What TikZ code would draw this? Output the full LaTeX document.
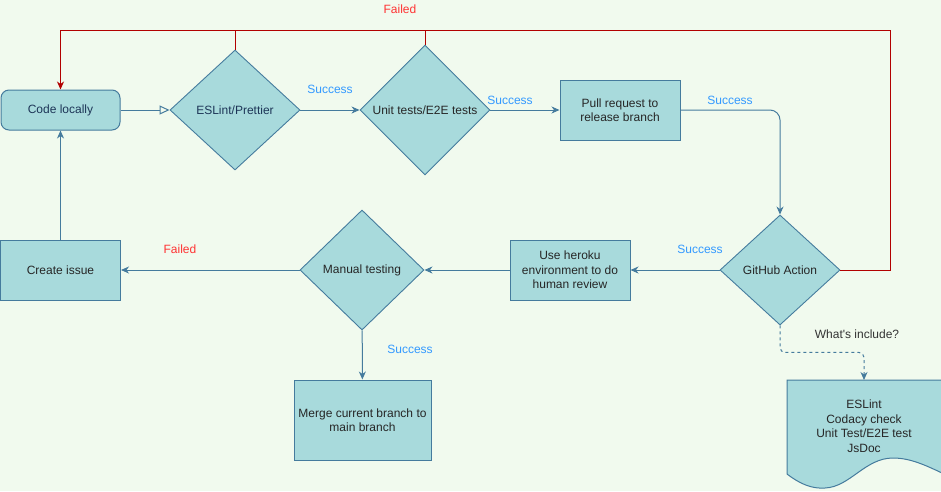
\documentclass[tikz,border=0pt]{standalone}
\usepackage{fontspec}
\setmainfont{Liberation Sans}
\usetikzlibrary{shapes.geometric,arrows.meta}
\definecolor{bgcol}{HTML}{F1FAEE}
\definecolor{boxfill}{HTML}{A8DADC}
\definecolor{boxline}{HTML}{457B9D}
\definecolor{boxtext}{HTML}{1D3557}
\definecolor{okblue}{HTML}{3399FF}
\definecolor{failred}{HTML}{FF3333}
\definecolor{loopred}{HTML}{B20000}
\begin{document}
\begin{tikzpicture}[x=1pt,y=-1pt,
    font=\fontsize{12}{14.5}\selectfont,
    box/.style={draw=boxline,fill=boxfill,line width=1pt,text=black!85,align=center,inner sep=2pt},
    decision/.style={diamond,draw=boxline,fill=boxfill,line width=0.9pt,inner sep=0pt,align=center,text=black!85},
    flow/.style={draw=boxline,line width=1pt,-{Stealth[length=8pt,width=7pt,inset=2.5pt]}},
    failflow/.style={draw=loopred,line width=1pt},
    success/.style={text=okblue},
    failed/.style={text=failred}]
    %% Canvas
    \fill[bgcol] (0,0) rectangle (941,491);
    \useasboundingbox (0,0) rectangle (941,491);
    %% Top row
    \node[box,rounded corners=8pt,minimum width=119pt,minimum height=40pt,text=boxtext] (code) at (60.5,110) {Code locally};
    \node[decision,minimum width=130pt,minimum height=120pt,text=boxtext] (lint) at (235,110) {ESLint/Prettier};
    \node[decision,minimum width=130pt,minimum height=130pt] (unit) at (425,110) {Unit tests/E2E tests};
    \node[box,minimum width=120pt,minimum height=60pt] (pr) at (620,110) {Pull request to\\release branch};
    %% Middle row
    \node[decision,minimum width=120pt,minimum height=110pt] (gha) at (780,270) {GitHub Action};
    \node[box,minimum width=120pt,minimum height=60pt] (heroku) at (570,270) {Use heroku\\environment to do\\human review};
    \node[decision,minimum width=124pt,minimum height=120pt] (manual) at (362,270) {Manual testing};
    \node[box,minimum width=120pt,minimum height=60pt] (issue) at (60.5,270) {Create issue};
    %% Bottom row
    \node[box,minimum width=137pt,minimum height=80pt] (merge) at (362.5,420) {Merge current branch to\\main branch};
    \draw[draw=boxline,fill=boxfill,line width=1pt] (787,380) -- (942,380) -- (942,473)
        .. controls (925,465) and (910,458) .. (893,458)
        .. controls (865,458) and (850,487) .. (825,488)
        .. controls (812,489) and (800,484) .. (787,474) -- cycle;
    \node[text=black!85,align=center] (doc) at (864,426) {ESLint\\Codacy check\\Unit Test/E2E test\\JsDoc};
    \coordinate (docTop) at (864,380);
    %% Success path
    \draw[draw=boxline,line width=1pt,-{Triangle[open,length=10pt,width=9pt]}] (code) -- (lint);
    \draw[flow] (lint) -- (unit);
    \draw[flow] (unit) -- (pr);
    \draw[flow,rounded corners=10pt] (pr.east) -| (gha.north);
    \draw[flow] (gha) -- (heroku);
    \draw[flow] (heroku) -- (manual);
    \draw[flow] (manual) -- (merge);
    \draw[flow] (manual) -- (issue);
    \draw[flow] (issue) -- (code);
    \draw[flow,dashed,dash pattern=on 3pt off 3pt,rounded corners=5pt] (gha.south) -- ++(0,27) -| (docTop);
    \node[success] (s1) at (330,89) {Success};
    \node[success] (s2) at (510,100) {Success};
    \node[success] (s3) at (730,100) {Success};
    \node[success] (s4) at (700,249) {Success};
    \node[success] (s5) at (410,349) {Success};
    \node[failed] (f2) at (180,249) {Failed};
    \node[text=black!80] (inc) at (857,334) {What\textquotesingle s include?};
    %% Failed loop
    \coordinate (loopR) at (890,30);
    \coordinate (loopL) at (60.5,30);
    \draw[failflow,-{Stealth[length=8pt,width=7pt,inset=2.5pt]}] (gha.east) -| (loopR) -- (loopL) -- (code.north);
    \draw[failflow] (lint.north) -- (lint.north |- loopL);
    \draw[failflow] (unit.north) -- (unit.north |- loopL);
    \node[failed] (f1) at (400,9) {Failed};
\end{tikzpicture}
\end{document}
